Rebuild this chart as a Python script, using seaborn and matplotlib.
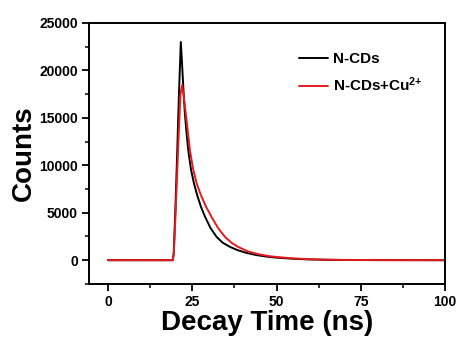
import matplotlib
matplotlib.use("Agg")
import matplotlib.pyplot as plt
import seaborn as sns
import pandas as pd
from matplotlib.ticker import MultipleLocator

# decay curves (time in ns, counts)
time_ncds = [0, 5, 10, 15, 19.2, 19.5, 20.0, 20.5, 21.0, 21.6, 22.0, 22.4, 22.8,
             23.3, 23.8, 24.6, 25.5, 26.5, 27.6, 28.8, 30.4, 32.2, 34.0, 36.2,
             38.5, 41.2, 44.0, 47.0, 50.0, 55.0, 60.0, 65.0, 70.0, 80.0, 90.0, 100.0]
counts_ncds = [0, 0, 0, 0, 0, 700, 5500, 11000, 17000, 23000, 20500, 17800, 15500,
               13400, 11600, 9600, 8090, 6800, 5600, 4570, 3400, 2460, 1850, 1400,
               1050, 760, 540, 380, 270, 150, 80, 40, 20, 10, 5, 0]

time_cu = [0, 5, 10, 15, 19.2, 19.5, 20.0, 20.5, 21.0, 21.5, 22.0, 22.5, 22.9,
           23.3, 24.3, 25.2, 26.3, 27.5, 29.0, 30.7, 32.6, 34.7, 36.6, 38.6,
           41.7, 45.0, 48.0, 50.0, 55.0, 60.0, 65.0, 70.0, 80.0, 90.0, 100.0]
counts_cu = [0, 0, 0, 0, 0, 600, 4500, 9000, 13500, 17500, 18460, 17200, 16000,
             14770, 11600, 9700, 8090, 6920, 5700, 4570, 3420, 2460, 1850, 1400,
             900, 600, 420, 340, 190, 100, 55, 30, 10, 5, 0]

labels = ["N-CDs", r"N-CDs+Cu$^{2{+}}$"]
colors = ["#000000", "#e51a1c"]

df = pd.concat([
    pd.DataFrame({"t": time_ncds, "c": counts_ncds, "s": labels[0]}),
    pd.DataFrame({"t": time_cu, "c": counts_cu, "s": labels[1]}),
])

sns.set_theme(style="ticks")
plt.rcParams["font.family"] = ["Liberation Sans", "DejaVu Sans"]
plt.rcParams["font.weight"] = "bold"
plt.rcParams["text.color"] = "black"
plt.rcParams["axes.labelcolor"] = "black"
plt.rcParams["mathtext.fontset"] = "custom"
plt.rcParams["mathtext.rm"] = "Liberation Sans:bold"
plt.rcParams["mathtext.bf"] = "Liberation Sans:bold"
plt.rcParams["mathtext.default"] = "bf"

fig = plt.figure(figsize=(4.57, 3.38), dpi=100)
ax = fig.add_axes([0.195, 0.160, 0.779, 0.772])

sns.lineplot(data=df, x="t", y="c", hue="s", palette=colors, linewidth=1.4,
             ax=ax, legend=True)

ax.set_xlim(-5.6, 100)
ax.set_ylim(-2500, 25000)
ax.xaxis.set_major_locator(MultipleLocator(25))
ax.xaxis.set_minor_locator(MultipleLocator(12.5))
ax.yaxis.set_major_locator(MultipleLocator(5000))
ax.yaxis.set_minor_locator(MultipleLocator(2500))

for side in ["top", "right", "left", "bottom"]:
    ax.spines[side].set_visible(True)
    ax.spines[side].set_linewidth(1.4)
    ax.spines[side].set_color("black")

ax.tick_params(which="major", direction="out", length=5, width=1.3,
               labelsize=10, pad=3, colors="black")
ax.tick_params(which="minor", direction="out", length=3, width=1.1, colors="black")
for lab in ax.get_xticklabels() + ax.get_yticklabels():
    lab.set_fontweight("bold")

ax.set_xlabel("Decay Time (ns)", fontsize=20, fontweight="bold", labelpad=1, color="black")
ax.set_ylabel("Counts", fontsize=20, fontweight="bold", labelpad=2, color="black")

leg = ax.legend(loc="upper right", bbox_to_anchor=(0.975, 0.94), frameon=False,
                handlelength=1.9, handletextpad=0.3, labelspacing=0.6,
                prop={"weight": "bold", "size": 11})
for line in leg.get_lines():
    line.set_linewidth(1.4)
for txt in leg.get_texts():
    txt.set_color("black")

fig.savefig("out.png", dpi=100)
